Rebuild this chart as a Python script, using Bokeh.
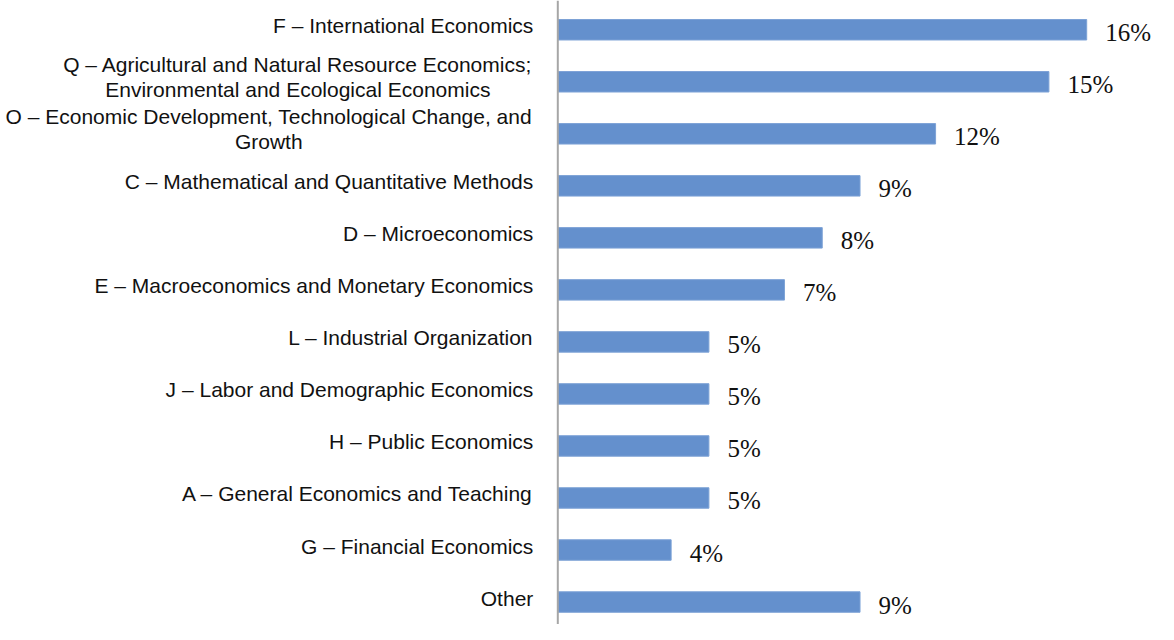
from bokeh.plotting import figure
from bokeh.models import ColumnDataSource, Range1d, Span
from bokeh.core.properties import value
from bokeh.embed import file_html
from bokeh.resources import INLINE

# ---- data (top to bottom) ----
categories = [
    "F – International Economics",
    "Q – Agricultural and Natural Resource Economics;\nEnvironmental and Ecological Economics",
    "O – Economic Development, Technological Change, and\nGrowth",
    "C – Mathematical and Quantitative Methods",
    "D – Microeconomics",
    "E – Macroeconomics and Monetary Economics",
    "L – Industrial Organization",
    "J – Labor and Demographic Economics",
    "H – Public Economics",
    "A – General Economics and Teaching",
    "G – Financial Economics",
    "Other",
]
counts = [14, 13, 10, 8, 7, 6, 4, 4, 4, 4, 3, 8]
pct_labels = ["16%", "15%", "12%", "9%", "8%", "7%", "5%", "5%", "5%", "5%", "4%", "9%"]

# ---- layout ----
W, H = 1158, 624
sx, sy = W / 1174, H / 640
axis_px = 565 * sx          # screen x of the value axis
px_per_unit = 38.3 * sx
top_px = 30 * sy
row_px = 53.36 * sy
bar_h = 21 * sy / row_px

rows = list(range(len(categories)))
src = ColumnDataSource(dict(y=rows, cnt=counts, lab=pct_labels))

single = [i for i, c in enumerate(categories) if "\n" not in c]
double = [i for i, c in enumerate(categories) if "\n" in c]
# centre offsets (px from axis) for the two-line labels
double_offsets = {1: -260, 2: -289}

src_single = ColumnDataSource(dict(y=single, t=[categories[i] for i in single]))
src_double = ColumnDataSource(dict(y=double, t=[categories[i] for i in double],
                                   xo=[double_offsets[i] for i in double]))

p = figure(width=W, height=H, output_backend="svg", toolbar_location=None,
           x_axis_type=None, y_axis_type=None,
           x_range=Range1d(-axis_px / px_per_unit, (W - axis_px) / px_per_unit),
           y_range=Range1d((H - top_px) / row_px, -top_px / row_px),
           min_border=0, min_border_left=0, min_border_right=0,
           min_border_top=0, min_border_bottom=0)
p.outline_line_color = None
p.xgrid.visible = False
p.ygrid.visible = False
p.background_fill_color = "white"
p.border_fill_color = "white"

p.hbar(y="y", left=0, right="cnt", height=bar_h, source=src,
       fill_color="#6490cd", line_color="#7da2d6", line_width=1)

p.add_layout(Span(location=0, dimension="height", line_color="#a6a6a6", line_width=2))

p.text(x="cnt", y="y", text="lab", source=src, x_offset=18.5, y_offset=3,
       text_font=value("Liberation Serif"), text_font_size="25px",
       text_color="#111111", text_align="left", text_baseline="middle")

p.text(x=0, y="y", text="t", source=src_single, x_offset=-24.5, y_offset=-4,
       text_font=value("Liberation Sans"), text_font_size="21px",
       text_color="#111111", text_align="right", text_baseline="middle")

p.text(x=0, y="y", text="t", source=src_double, x_offset="xo", y_offset=-5,
       text_font=value("Liberation Sans"), text_font_size="21px",
       text_color="#111111", text_align="center", text_baseline="middle",
       text_line_height=1.11)

open("out.html", "w").write(file_html(p, INLINE))
